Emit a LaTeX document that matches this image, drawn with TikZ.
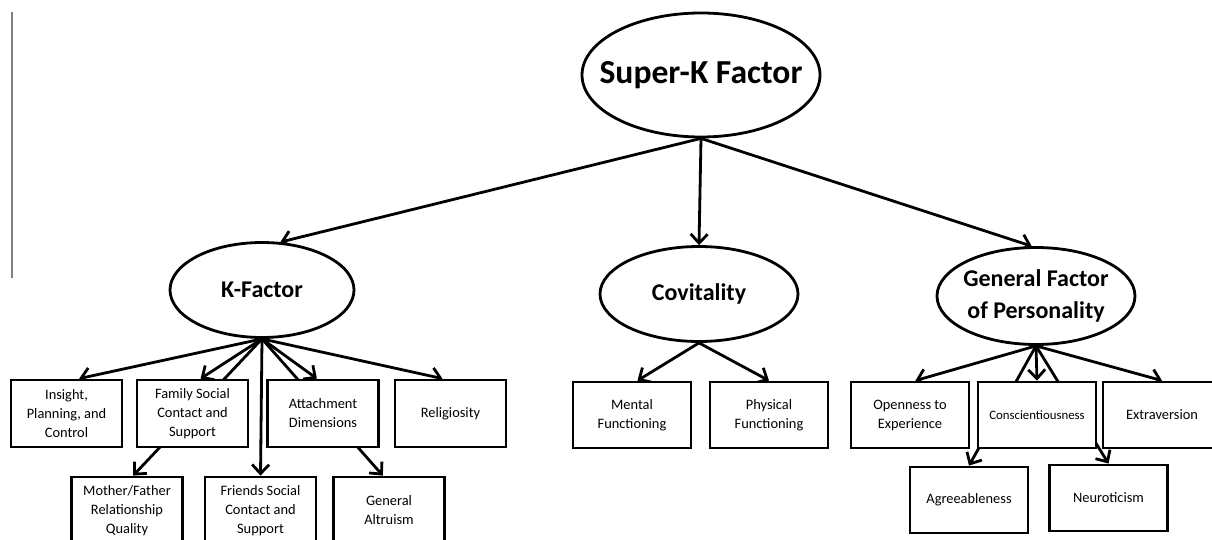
\documentclass[tikz,border=0pt]{standalone}
\usepackage{fontspec}
\setmainfont{Carlito}
\usetikzlibrary{arrows.meta}
\usetikzlibrary{shapes.geometric}
\usetikzlibrary{backgrounds}

\begin{document}
\begin{tikzpicture}[x=1pt, y=-1pt, line width=2.8pt,
    factor/.style={draw, ellipse, fill=white, inner sep=-40pt, align=center,
      font=\bfseries\fontsize{24}{32}\selectfont},
    measure/.style={draw, rectangle, fill=white, minimum width=111pt,
      minimum height=67pt, inner sep=0pt, align=center,
      font=\fontsize{14.4}{19}\selectfont},
    wide/.style={minimum width=118pt, minimum height=66pt},
    link/.style={-{Straight Barb[length=9pt,width=17pt]}, line width=2.8pt}]

    \useasboundingbox (0, 0) rectangle (1212, 540);

    \draw [gray, line width=2pt] (12, 12) -- (12, 278);

    % latent factors
    \node [factor, minimum width=238pt, minimum height=124pt,
      font=\bfseries\fontsize{33.6}{40}\selectfont] (superk) at (701, 75)
    {Super-K Factor};
    \node [factor, minimum width=184pt, minimum height=95pt] (kfactor)
    at (262, 290) {K-Factor};
    \node [factor, minimum width=198pt, minimum height=95pt] (covit)
    at (699, 294) {Covitality};
    \node [factor, minimum width=198pt, minimum height=97pt] (gfp)
    at (1036, 296) {General Factor\\of Personality};

    % K-Factor indicators
    \node [measure] (insight) at (66.5, 413.5) {Insight,\\Planning, and\\Control};
    \node [measure] (family) at (192.5, 413.5) {Family Social\\Contact and\\Support};
    \node [measure] (attach) at (323, 413.5) {Attachment\\Dimensions};
    \node [measure] (relig) at (450.5, 413.5) {Religiosity};
    \node [measure] (parent) at (127, 510.5) {Mother/Father\\Relationship\\Quality};
    \node [measure] (friends) at (260.5, 510.5) {Friends Social\\Contact and\\Support};
    \node [measure] (altru) at (389, 510.5) {General\\Altruism};

    % Covitality indicators
    \node [measure, wide] (mental) at (632, 415) {Mental\\Functioning};
    \node [measure, wide] (physical) at (769, 415) {Physical\\Functioning};

    % GFP indicators
    \node [measure, wide] (open) at (910, 415) {Openness to\\Experience};
    \node [measure, wide, font=\fontsize{12.8}{15}\selectfont] (consc)
    at (1037, 415) {Conscientiousness};
    \node [measure, wide] (extra) at (1162, 415) {Extraversion};
    \node [measure, wide] (agree) at (969, 500) {Agreeableness};
    \node [measure, wide] (neuro) at (1108.5, 498) {Neuroticism};

    \begin{pgfonlayer}{background}
      \draw [link] (superk.south) -- (kfactor.69);
      \draw [link] (superk.south) -- (covit.north);
      \draw [link] (superk.south) -- (gfp.95);

      \draw [link] (kfactor.south) -- (insight.70);
      \draw [link] (kfactor.south) -- (family.77);
      \draw [link] (kfactor.south) -- (attach.100);
      \draw [link] (kfactor.south) -- (relig.103);
      \draw [link] (kfactor.south) -- (parent.80);
      \draw [link] (kfactor.south) -- (friends.north);
      \draw [link] (kfactor.south) -- (altru.100);

      \draw [link] (covit.south) -- (mental.81);
      \draw [link] (covit.south) -- (physical.north);

      \draw [link] (gfp.south) -- (open.81);
      \draw [link] (gfp.south) -- (consc.north);
      \draw [link] (gfp.south) -- (extra.north);
      \draw [link] (gfp.south) -- (agree.north);
      \draw [link] (gfp.south) -- (neuro.north);
    \end{pgfonlayer}

  \end{tikzpicture}
\end{document}
